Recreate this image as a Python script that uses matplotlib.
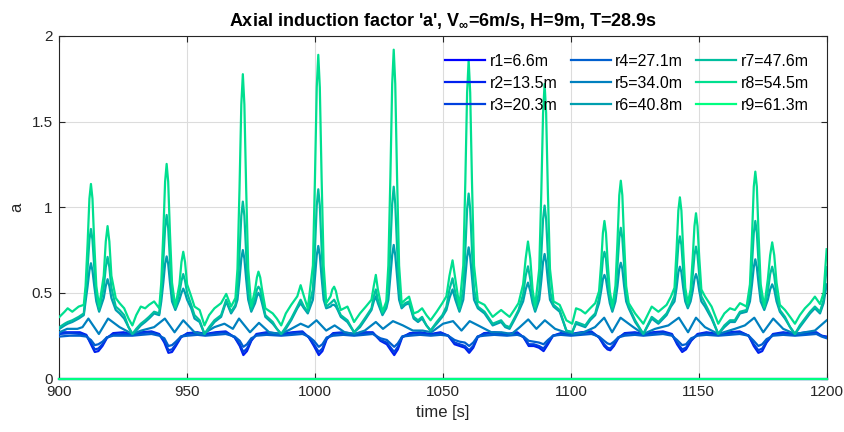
import matplotlib
matplotlib.use("Agg")
import matplotlib.pyplot as plt

# ---------------- data ----------------
labels = ["r1=6.6m", "r2=13.5m", "r3=20.3m", "r4=27.1m", "r5=34.0m",
          "r6=40.8m", "r7=47.6m", "r8=54.5m", "r9=61.3m"]
colors = ["#0000FF", "#0020EF", "#0040DF", "#0060CF", "#0080BF",
          "#009FAF", "#00BF9F", "#00DF8F", "#00FF80"]

# root and tip sections (a = 0)
t_zero = [900, 1200]
a_r1 = [0.0, 0.0]
a_r9 = [0.0, 0.0]

# inner sections r2, r3, r4
t_low = [900, 904, 908, 910.5, 912.3, 913.8, 915.2, 916.8, 918.5, 921, 925, 928.5,
         932, 936, 939, 941, 942.6, 944, 945.5, 947.5, 950, 954, 957,
         961, 965, 968.5, 970.5, 971.9, 973.3, 975, 977, 981, 986.7,
         991, 995, 997.5, 999.5, 1001.4, 1002.8, 1004.5, 1007, 1011, 1015.2,
         1019, 1022.5, 1025.5, 1028, 1029.8, 1030.9, 1032.3, 1034, 1037, 1041, 1045.2,
         1049, 1052, 1054.5, 1056.5, 1058.5, 1060.2, 1061.8, 1063.5, 1066, 1070, 1075,
         1079, 1081.5, 1083.5, 1085.5, 1087.5, 1089.3, 1091, 1093, 1096, 1100,
         1104, 1108, 1111, 1113, 1114.3, 1115.4, 1116.8, 1118.5, 1121, 1125, 1128.3,
         1132, 1136, 1139.5, 1141.5, 1143.5, 1145, 1147, 1149.5, 1153, 1157.6,
         1162, 1166, 1169.5, 1171.5, 1173.3, 1174.8, 1176.5, 1179, 1183, 1187.6,
         1192, 1196, 1198, 1200]
a_r2 = [0.27, 0.27, 0.27, 0.255, 0.20, 0.155, 0.16, 0.19, 0.235, 0.265, 0.27, 0.26,
        0.27, 0.275, 0.26, 0.21, 0.15, 0.155, 0.19, 0.24, 0.265, 0.27, 0.26,
        0.27, 0.275, 0.24, 0.19, 0.137, 0.16, 0.22, 0.26, 0.27, 0.26,
        0.27, 0.275, 0.24, 0.19, 0.137, 0.16, 0.23, 0.265, 0.27, 0.26,
        0.27, 0.27, 0.22, 0.20, 0.16, 0.137, 0.17, 0.24, 0.265, 0.27, 0.26,
        0.27, 0.25, 0.20, 0.19, 0.18, 0.15, 0.18, 0.24, 0.265, 0.27, 0.26,
        0.27, 0.24, 0.19, 0.19, 0.18, 0.16, 0.20, 0.25, 0.265, 0.26,
        0.27, 0.275, 0.24, 0.19, 0.17, 0.165, 0.19, 0.235, 0.265, 0.27, 0.26,
        0.27, 0.275, 0.26, 0.20, 0.155, 0.17, 0.22, 0.26, 0.27, 0.26,
        0.27, 0.275, 0.25, 0.19, 0.15, 0.16, 0.21, 0.26, 0.27, 0.26,
        0.27, 0.27, 0.25, 0.245]
a_r3 = [0.26, 0.265, 0.26, 0.25, 0.21, 0.17, 0.175, 0.20, 0.24, 0.255, 0.26, 0.255,
        0.265, 0.27, 0.255, 0.22, 0.165, 0.17, 0.20, 0.245, 0.26, 0.265, 0.255,
        0.265, 0.27, 0.24, 0.20, 0.155, 0.175, 0.225, 0.255, 0.265, 0.255,
        0.265, 0.27, 0.24, 0.20, 0.155, 0.175, 0.235, 0.26, 0.265, 0.255,
        0.265, 0.265, 0.225, 0.21, 0.175, 0.155, 0.185, 0.245, 0.26, 0.265, 0.255,
        0.265, 0.25, 0.21, 0.20, 0.19, 0.165, 0.19, 0.245, 0.26, 0.265, 0.255,
        0.265, 0.24, 0.20, 0.20, 0.19, 0.175, 0.21, 0.25, 0.26, 0.255,
        0.265, 0.27, 0.24, 0.20, 0.18, 0.175, 0.20, 0.24, 0.26, 0.265, 0.255,
        0.265, 0.27, 0.255, 0.21, 0.17, 0.18, 0.225, 0.255, 0.265, 0.255,
        0.265, 0.27, 0.25, 0.20, 0.165, 0.175, 0.215, 0.255, 0.265, 0.255,
        0.265, 0.265, 0.25, 0.24]
a_r4 = [0.245, 0.25, 0.25, 0.245, 0.225, 0.195, 0.20, 0.215, 0.24, 0.25, 0.25, 0.25,
        0.255, 0.26, 0.25, 0.235, 0.19, 0.195, 0.215, 0.245, 0.25, 0.255, 0.25,
        0.255, 0.26, 0.245, 0.22, 0.185, 0.20, 0.235, 0.25, 0.255, 0.25,
        0.255, 0.26, 0.245, 0.22, 0.185, 0.20, 0.24, 0.25, 0.255, 0.25,
        0.255, 0.26, 0.235, 0.225, 0.20, 0.185, 0.205, 0.245, 0.25, 0.255, 0.25,
        0.255, 0.25, 0.225, 0.215, 0.21, 0.19, 0.21, 0.245, 0.25, 0.255, 0.25,
        0.255, 0.245, 0.22, 0.215, 0.21, 0.20, 0.225, 0.25, 0.255, 0.25,
        0.255, 0.26, 0.245, 0.22, 0.205, 0.20, 0.215, 0.24, 0.25, 0.255, 0.25,
        0.255, 0.26, 0.25, 0.225, 0.195, 0.20, 0.235, 0.25, 0.255, 0.25,
        0.255, 0.26, 0.25, 0.22, 0.19, 0.20, 0.23, 0.25, 0.255, 0.25,
        0.255, 0.26, 0.245, 0.235]

# mid section r5
t_mid = [900, 903, 907, 909, 911.3, 915.4, 919.0, 923.5, 928.5, 932, 937, 941.2,
         945, 948.4, 952.8, 956, 960.6, 964.5, 967.8, 970.2, 974.5, 978, 982, 986.7,
         990.6, 994.3, 997.3, 1000.5, 1004.3, 1007.6, 1011.5, 1015.4, 1019.4, 1023.7,
         1026.5, 1030.4, 1034.3, 1038.2, 1042, 1045.4, 1050, 1053.9, 1057.2, 1060.4,
         1063.7, 1068.9, 1072.8, 1076.8, 1080, 1083.3, 1086.5, 1089.8, 1093.8, 1097.7,
         1101.3, 1105, 1109.4, 1113, 1116.1, 1119.4, 1124.4, 1128.3, 1132.9, 1138.1,
         1142.2, 1145.8, 1148.9, 1152.4, 1157.6, 1164.1, 1168, 1171.7, 1175.2, 1179.1,
         1183, 1187.6, 1191.5, 1195.4, 1200]
a_r5 = [0.27, 0.29, 0.29, 0.30, 0.35, 0.26, 0.35, 0.30, 0.26, 0.28, 0.30, 0.35,
        0.27, 0.34, 0.27, 0.26, 0.30, 0.32, 0.29, 0.35, 0.27, 0.325, 0.27, 0.26,
        0.29, 0.32, 0.30, 0.34, 0.28, 0.31, 0.27, 0.26, 0.28, 0.33,
        0.29, 0.335, 0.31, 0.28, 0.28, 0.27, 0.32, 0.335, 0.28, 0.335,
        0.31, 0.27, 0.27, 0.26, 0.30, 0.345, 0.29, 0.34, 0.29, 0.27,
        0.26, 0.27, 0.30, 0.355, 0.27, 0.355, 0.30, 0.26, 0.29, 0.31,
        0.355, 0.27, 0.355, 0.30, 0.26, 0.29, 0.31, 0.355, 0.27, 0.35,
        0.29, 0.26, 0.27, 0.28, 0.34]

# outer sections r6, r7, r8
t_peak = [900, 902, 903.2, 905, 907.5, 909.5,
          910.2, 911.0, 911.7, 912.3, 912.9, 913.6, 914.4,
          915.5,
          917.3, 918.1, 918.8, 919.5, 920.3,
          922, 923.5, 925.3, 927, 928.5,
          930, 931.8, 933.5, 935, 937, 939,
          939.8, 940.6, 941.3, 941.9, 942.5, 943.2, 944.0,
          945.3,
          946.9, 947.7, 948.4, 949.1, 949.9,
          951.5, 952.8, 954.8, 956.7,
          958.5, 960.6, 963.2, 965.2, 967.1, 968.8,
          969.6, 970.4, 971.1, 971.7, 972.3, 973.0, 973.8,
          975,
          976.5, 977.2, 977.8, 978.5, 979.2,
          980.5, 983.4, 985, 986.7,
          988.5, 990.6, 993, 994.3, 995.6, 997.1,
          999.1, 999.9, 1000.6, 1001.2, 1001.8, 1002.5, 1003.3,
          1004.3,
          1006.0, 1006.7, 1007.4, 1008.1, 1008.8,
          1010, 1012.6, 1015.2,
          1017.5, 1019.8, 1022, 1022.9, 1023.7, 1024.5, 1026.3, 1027.8,
          1028.6, 1029.4, 1030.1, 1030.7, 1031.3, 1032.0, 1032.8,
          1033.8, 1035.2, 1036.7, 1038.5, 1040.2, 1041.8, 1043.5, 1045.1, 1047.5, 1049.7,
          1051.3, 1052.5, 1053.7, 1054.8, 1056.4,
          1057.9, 1058.7, 1059.4, 1060.0, 1060.6, 1061.3, 1062.1,
          1063.6, 1066.2, 1069.4, 1071, 1072.7, 1074.3, 1076, 1077.8, 1079.5,
          1081.3, 1082.3, 1083.2, 1084.1, 1085.0, 1086.0,
          1087.6, 1088.4, 1089.1, 1089.7, 1090.3, 1091.0, 1091.8,
          1093.2, 1095.6, 1098.2, 1100.5, 1102, 1103.8, 1105.6, 1107.5, 1109.5,
          1111.0, 1111.8, 1112.5, 1113.1, 1113.7, 1114.4, 1115.2,
          1116.2,
          1117.4, 1118.2, 1118.9, 1119.5, 1120.1, 1120.8, 1121.6,
          1122.6, 1125.1, 1128.3, 1131.6, 1134.2, 1137.4, 1139.1,
          1140.5, 1141.3, 1142.0, 1142.6, 1143.2, 1143.9, 1144.7,
          1145.7,
          1146.8, 1147.6, 1148.3, 1148.9, 1149.5, 1150.2, 1151.0,
          1152.4, 1155, 1157.6, 1160, 1162.2, 1164.1, 1166.1, 1168.7,
          1170.0, 1170.8, 1171.5, 1172.1, 1172.7, 1173.4, 1174.2,
          1175.6,
          1177.0, 1177.9, 1178.7, 1179.5, 1180.4,
          1181.7, 1183.7, 1185.7, 1187.6, 1189.5, 1191.5, 1193.5, 1195.4, 1197.4, 1198.8, 1200]
a_r8 = [0.36, 0.39, 0.41, 0.39, 0.42, 0.43,
        0.54, 0.79, 1.05, 1.136, 1.05, 0.79, 0.54,
        0.42,
        0.60, 0.80, 0.89, 0.80, 0.60,
        0.47, 0.44, 0.41, 0.35, 0.31,
        0.37, 0.42, 0.41, 0.43, 0.45, 0.41,
        0.56, 0.85, 1.15, 1.253, 1.15, 0.85, 0.56,
        0.42,
        0.55, 0.68, 0.74, 0.68, 0.55,
        0.48, 0.42, 0.40, 0.31,
        0.37, 0.41, 0.44, 0.494, 0.42, 0.47,
        0.64, 1.11, 1.60, 1.777, 1.60, 1.11, 0.64,
        0.42,
        0.52, 0.59, 0.624, 0.59, 0.52,
        0.41, 0.38, 0.35, 0.31,
        0.38, 0.43, 0.48, 0.545, 0.48, 0.41,
        0.66, 1.17, 1.70, 1.89, 1.70, 1.17, 0.66,
        0.44,
        0.48, 0.52, 0.536, 0.51, 0.46,
        0.40, 0.42, 0.33,
        0.38, 0.42, 0.46, 0.54, 0.605, 0.52, 0.39, 0.45,
        0.66, 1.18, 1.72, 1.92, 1.72, 1.18, 0.66,
        0.44, 0.46, 0.478, 0.38, 0.39, 0.41, 0.37, 0.34, 0.39, 0.44,
        0.48, 0.60, 0.69, 0.58, 0.42,
        0.66, 1.15, 1.67, 1.86, 1.67, 1.15, 0.66,
        0.45, 0.43, 0.36, 0.38, 0.40, 0.38, 0.36, 0.40, 0.44,
        0.55, 0.70, 0.80, 0.70, 0.52, 0.42,
        0.64, 1.08, 1.55, 1.72, 1.55, 1.08, 0.64,
        0.45, 0.43, 0.34, 0.32, 0.41, 0.40, 0.38, 0.41, 0.44,
        0.51, 0.67, 0.85, 0.92, 0.85, 0.67, 0.51,
        0.42,
        0.54, 0.80, 1.07, 1.155, 1.07, 0.80, 0.54,
        0.44, 0.38, 0.32, 0.42, 0.39, 0.43, 0.478,
        0.53, 0.75, 0.98, 1.058, 0.98, 0.75, 0.53,
        0.44,
        0.52, 0.70, 0.89, 0.965, 0.89, 0.70, 0.52,
        0.48, 0.42, 0.32, 0.38, 0.41, 0.40, 0.44, 0.42,
        0.55, 0.83, 1.12, 1.208, 1.12, 0.83, 0.55,
        0.42,
        0.58, 0.72, 0.795, 0.72, 0.56,
        0.43, 0.40, 0.36, 0.32, 0.37, 0.41, 0.44, 0.478, 0.435, 0.50, 0.755]
a_r7 = [0.30, 0.32, 0.33, 0.34, 0.36, 0.38,
        0.49, 0.65, 0.81, 0.873, 0.81, 0.65, 0.49,
        0.40,
        0.53, 0.65, 0.71, 0.65, 0.53,
        0.42, 0.40, 0.37, 0.30, 0.26,
        0.29, 0.32, 0.34, 0.36, 0.39, 0.38,
        0.50, 0.69, 0.88, 0.955, 0.88, 0.69, 0.50,
        0.41,
        0.50, 0.57, 0.61, 0.57, 0.50,
        0.43, 0.37, 0.34, 0.26,
        0.30, 0.34, 0.37, 0.46, 0.39, 0.43,
        0.51, 0.73, 0.95, 1.033, 0.95, 0.73, 0.51,
        0.40,
        0.47, 0.52, 0.536, 0.52, 0.47,
        0.37, 0.33, 0.29, 0.26,
        0.30, 0.35, 0.42, 0.46, 0.42, 0.39,
        0.52, 0.76, 1.01, 1.105, 1.01, 0.76, 0.52,
        0.42,
        0.44, 0.45, 0.46, 0.44, 0.41,
        0.37, 0.34, 0.27,
        0.31, 0.36, 0.41, 0.48, 0.52, 0.46, 0.38, 0.42,
        0.52, 0.77, 1.02, 1.12, 1.02, 0.77, 0.52,
        0.42, 0.44, 0.45, 0.36, 0.34, 0.36, 0.31, 0.28, 0.33, 0.37,
        0.42, 0.52, 0.585, 0.50, 0.40,
        0.52, 0.75, 0.99, 1.08, 0.99, 0.75, 0.52,
        0.42, 0.39, 0.32, 0.33, 0.34, 0.31, 0.30, 0.35, 0.40,
        0.49, 0.60, 0.655, 0.58, 0.47, 0.40,
        0.51, 0.72, 0.93, 1.01, 0.93, 0.72, 0.51,
        0.43, 0.40, 0.28, 0.27, 0.33, 0.32, 0.31, 0.35, 0.38,
        0.47, 0.58, 0.70, 0.74, 0.70, 0.58, 0.47,
        0.40,
        0.49, 0.66, 0.82, 0.88, 0.82, 0.66, 0.49,
        0.42, 0.34, 0.26, 0.36, 0.33, 0.38, 0.43,
        0.48, 0.63, 0.78, 0.83, 0.78, 0.63, 0.48,
        0.42,
        0.48, 0.60, 0.72, 0.77, 0.72, 0.60, 0.48,
        0.44, 0.36, 0.26, 0.31, 0.34, 0.34, 0.39, 0.40,
        0.50, 0.67, 0.85, 0.92, 0.85, 0.67, 0.50,
        0.41,
        0.51, 0.61, 0.653, 0.60, 0.49,
        0.40, 0.36, 0.30, 0.26, 0.31, 0.35, 0.39, 0.42, 0.39, 0.46, 0.65]
a_r6 = [0.29, 0.31, 0.32, 0.33, 0.35, 0.37,
        0.45, 0.54, 0.63, 0.673, 0.63, 0.54, 0.45,
        0.39,
        0.47, 0.54, 0.58, 0.54, 0.47,
        0.40, 0.38, 0.35, 0.30, 0.26,
        0.28, 0.31, 0.33, 0.35, 0.38, 0.37,
        0.45, 0.56, 0.67, 0.713, 0.67, 0.56, 0.45,
        0.40,
        0.46, 0.50, 0.525, 0.50, 0.46,
        0.41, 0.35, 0.33, 0.26,
        0.29, 0.33, 0.36, 0.45, 0.38, 0.42,
        0.46, 0.58, 0.70, 0.75, 0.70, 0.58, 0.46,
        0.39,
        0.44, 0.48, 0.50, 0.48, 0.44,
        0.36, 0.32, 0.29, 0.26,
        0.29, 0.34, 0.41, 0.44, 0.41, 0.38,
        0.46, 0.59, 0.72, 0.774, 0.72, 0.59, 0.46,
        0.41,
        0.42, 0.43, 0.43, 0.42, 0.40,
        0.36, 0.33, 0.27,
        0.30, 0.35, 0.40, 0.45, 0.48, 0.44, 0.37, 0.41,
        0.46, 0.60, 0.72, 0.78, 0.72, 0.60, 0.46,
        0.41, 0.43, 0.44, 0.35, 0.33, 0.35, 0.31, 0.28, 0.32, 0.36,
        0.40, 0.47, 0.52, 0.46, 0.39,
        0.46, 0.59, 0.71, 0.766, 0.71, 0.59, 0.46,
        0.41, 0.38, 0.31, 0.32, 0.33, 0.30, 0.29, 0.34, 0.39,
        0.45, 0.52, 0.56, 0.51, 0.44, 0.39,
        0.46, 0.57, 0.68, 0.727, 0.68, 0.57, 0.46,
        0.42, 0.39, 0.28, 0.27, 0.32, 0.31, 0.30, 0.34, 0.37,
        0.44, 0.51, 0.58, 0.605, 0.58, 0.51, 0.44,
        0.39,
        0.45, 0.54, 0.64, 0.676, 0.64, 0.54, 0.45,
        0.41, 0.33, 0.26, 0.35, 0.32, 0.37, 0.42,
        0.45, 0.53, 0.62, 0.653, 0.62, 0.53, 0.45,
        0.41,
        0.45, 0.51, 0.58, 0.61, 0.58, 0.51, 0.45,
        0.42, 0.35, 0.26, 0.30, 0.33, 0.33, 0.38, 0.39,
        0.45, 0.55, 0.65, 0.696, 0.65, 0.55, 0.45,
        0.40,
        0.46, 0.52, 0.55, 0.52, 0.45,
        0.39, 0.35, 0.30, 0.26, 0.30, 0.34, 0.38, 0.41, 0.38, 0.44, 0.55]

x_ticks = [900, 950, 1000, 1050, 1100, 1150, 1200]
y_ticks = [0, 0.5, 1, 1.5, 2]
y_ticklabels = ["0", "0.5", "1", "1.5", "2"]

# ---------------- plot ----------------
plt.rcParams['font.family'] = ['Liberation Sans', 'DejaVu Sans']
plt.rcParams['mathtext.fontset'] = 'custom'
plt.rcParams['mathtext.rm'] = 'Liberation Sans:bold'
plt.rcParams['mathtext.it'] = 'Liberation Sans:bold'
plt.rcParams['mathtext.bf'] = 'Liberation Sans:bold'

fig = plt.figure(figsize=(8.45, 4.32), dpi=100)
ax = fig.add_axes([0.0704, 0.1238, 0.9079, 0.7929])

series = [(t_zero, a_r1), (t_low, a_r2), (t_low, a_r3), (t_low, a_r4),
          (t_mid, a_r5), (t_peak, a_r6), (t_peak, a_r7), (t_peak, a_r8),
          (t_zero, a_r9)]
for i, (tt, aa) in enumerate(series):
    ax.plot(tt, aa, color=colors[i], lw=1.6, label=labels[i],
            clip_on=(i not in (0, 8)), zorder=3 + i * 0.01)

ax.set_xlim(900, 1200)
ax.set_ylim(0, 2)
ax.set_xticks(x_ticks)
ax.set_yticks(y_ticks)
ax.set_yticklabels(y_ticklabels)
ax.grid(True, color="#dcdcdc", lw=0.8, zorder=0)
ax.set_axisbelow(True)
ax.tick_params(direction="in", top=True, right=True, length=4, width=0.8,
               labelsize=11, colors="#262626", pad=5)
for s in ax.spines.values():
    s.set_color("#262626")
    s.set_linewidth(0.8)

ax.set_xlabel("time [s]", fontsize=12, color="#262626", labelpad=4)
ax.set_ylabel("a", fontsize=12, color="#262626", labelpad=5)
ax.set_title(r"Axial induction factor 'a', V$_{\infty}$=6m/s, H=9m, T=28.9s",
             fontsize=13, fontweight="bold", pad=7)

leg = ax.legend(ncol=3, loc="upper right", bbox_to_anchor=(1.0, 1.0),
                frameon=False, fontsize=11.5, handlelength=2.5,
                handletextpad=0.3, columnspacing=0.8, labelspacing=0.45,
                borderaxespad=0.7)

fig.savefig("out.png", dpi=100)
